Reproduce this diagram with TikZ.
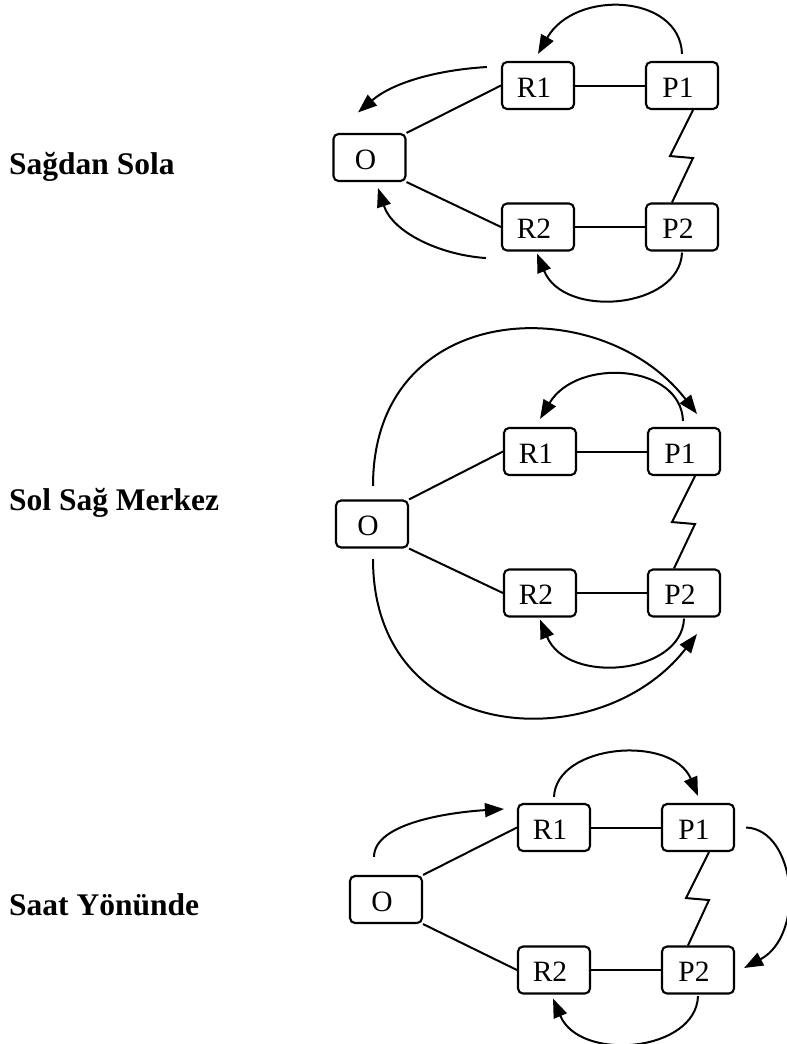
\documentclass[tikz,border=0pt]{standalone}
\usepackage{fontspec}
\setmainfont{Liberation Serif}
\usetikzlibrary{arrows.meta}
\begin{document}
\begin{tikzpicture}[x=1pt,y=-1pt,
  box/.style={draw, line width=2.1pt, rounded corners=5pt,
    minimum width=72pt, minimum height=47pt, inner sep=0pt,
    font=\fontsize{29.5}{32}\selectfont, text height=23pt, text depth=0pt,
    execute at end node={\hspace*{8pt}}},
  link/.style={line width=2pt},
  flow/.style={line width=2pt, -{Triangle[length=19pt,width=14pt]}},
  title/.style={anchor=base west, inner sep=0pt,
    font=\fontsize{31.5}{36}\selectfont\bfseries}]
\useasboundingbox (0,0) rectangle (787,1044);

% ---------- Sağdan Sola ----------
\node[title] (t1) at (9,174) {Sağdan Sola};
\node[box] (o1)  at (369.5,157.5) {O};
\node[box] (ra1) at (538,85.5) {R1};
\node[box] (pa1) at (682,85.5) {P1};
\node[box] (rb1) at (538,227) {R2};
\node[box] (pb1) at (682,227) {P2};
\draw[link] (o1.north east) -- (ra1.west);
\draw[link] (o1.south east) -- (rb1.west);
\draw[link] (ra1) -- (pa1);
\draw[link] (rb1) -- (pb1);
\draw[link] ([xshift=11pt]pa1.south) -- ++(-23,46) -- ++(23,2) -- ([xshift=-10pt]pb1.north);
\draw[flow] ([yshift=7pt]pa1.north) .. controls +(-2,-60) and +(37,-65) .. ([yshift=7pt]ra1.north);
\draw[flow] ([xshift=-14pt,yshift=18.5pt]ra1.west) .. controls +(-50,3) and +(35,-30) .. ([xshift=-11.5pt,yshift=20.5pt]o1.north);
\draw[flow] ([xshift=-15pt,yshift=-6.5pt]rb1.south west) .. controls +(-45,-3) and +(15,45) .. ([xshift=8.5pt,yshift=-6pt]o1.south);
\draw[flow] ([yshift=-1pt]pb1.south) .. controls +(-2,56) and +(27,66) .. ([xshift=-1pt,yshift=-2pt]rb1.south);

% ---------- Sol Sağ Merkez ----------
\node[title] (t2) at (9,510) {Sol Sağ Merkez};
\node[box] (o2)  at (372,524) {O};
\node[box] (ra2) at (540,451.5) {R1};
\node[box] (pa2) at (684,451.5) {P1};
\node[box] (rb2) at (540,593) {R2};
\node[box] (pb2) at (684,593) {P2};
\draw[link] (o2.north east) -- (ra2.west);
\draw[link] (o2.south east) -- (rb2.west);
\draw[link] (ra2) -- (pa2);
\draw[link] (rb2) -- (pb2);
\draw[link] ([xshift=11pt]pa2.south) -- ++(-23,46) -- ++(23,2) -- ([xshift=-10pt]pb2.north);
\draw[flow] ([xshift=-1pt,yshift=6pt]pa2.north) .. controls +(-2,-57) and +(37,-62) .. ([yshift=8pt]ra2.north);
\draw[flow] ([xshift=1pt,yshift=13.5pt]o2.north) .. controls +(0,-187) and +(-97,-125) .. ([xshift=13pt,yshift=13pt]pa2.north);
\draw[flow] ([yshift=-1pt]pb2.south) .. controls +(-2,56) and +(27,66) .. ([yshift=-2pt]rb2.south);
\draw[flow] ([xshift=1pt,yshift=-10.5pt]o2.south) .. controls +(0,187) and +(-97,125) .. ([xshift=13pt,yshift=-16.5pt]pb2.south);

% ---------- Saat Yönünde ----------
\node[title] (t3) at (9,915) {Saat Yönünde};
\node[box] (o3)  at (386,899.5) {O};
\node[box] (ra3) at (554,827.5) {R1};
\node[box] (pa3) at (698,827.5) {P1};
\node[box] (rb3) at (554,970) {R2};
\node[box] (pb3) at (698,970) {P2};
\draw[link] (o3.north east) -- (ra3.west);
\draw[link] (o3.south east) -- (rb3.west);
\draw[link] (ra3) -- (pa3);
\draw[link] (rb3) -- (pb3);
\draw[link] ([xshift=11pt]pa3.south) -- ++(-23,46) -- ++(23,2) -- ([xshift=-10pt]pb3.north);
\draw[flow] ([xshift=-12pt,yshift=18pt]o3.north) .. controls +(0,-35) and +(-50,3) .. ([xshift=-13pt,yshift=18.5pt]ra3.west);
\draw[flow] ([yshift=6pt]ra3.north) .. controls +(2,-53) and +(-26,-62) .. ([yshift=7pt]pa3.north);
\draw[flow] ([xshift=11pt]pa3.east) .. controls +(50,2) and +(62,-33) .. ([xshift=9pt,yshift=2pt]pb3.east);
\draw[flow] ([yshift=-1.5pt]pb3.south) .. controls +(-2,56) and +(27,64) .. ([xshift=-1pt,yshift=-4pt]rb3.south);
\end{tikzpicture}
\end{document}
